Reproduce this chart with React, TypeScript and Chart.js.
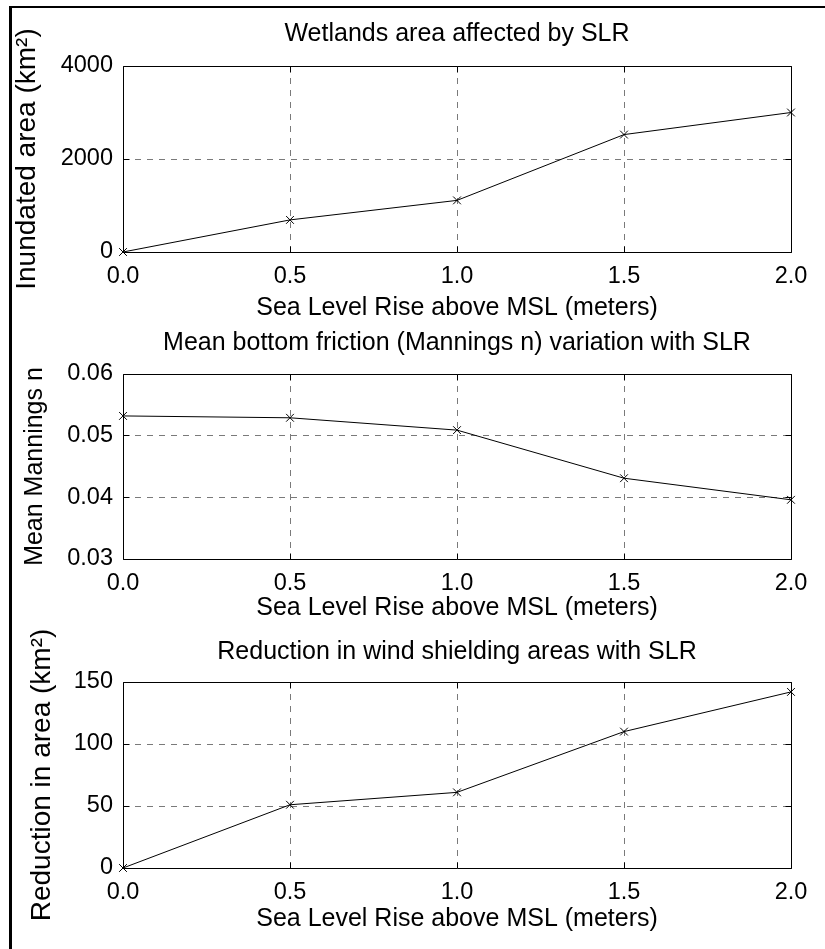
import React, { useEffect, useRef } from "react";
import { Chart, registerables } from "chart.js";

Chart.register(...registerables);

// ---- data ----
const slrLevels = [0, 0.5, 1.0, 1.5, 2.0];
const xTickValues = [0, 0.5, 1.0, 1.5, 2.0];
const inundatedArea = [0, 690, 1110, 2525, 3000];
const manningsN = [0.0532, 0.0529, 0.0509, 0.0431, 0.0396];
const shieldingReduction = [0, 51, 61, 110, 142];

const titles = [
  "Wetlands area affected by SLR",
  "Mean bottom friction (Mannings n) variation with SLR",
  "Reduction in wind shielding areas with SLR",
];
const yLabels = ["Inundated area (km²)", "Mean Mannings n", "Reduction in area (km²)"];
const xLabel = "Sea Level Rise above MSL (meters)";
const yTicks1 = [0, 2000, 4000];
const yTicks2 = [0.03, 0.04, 0.05, 0.06];
const yTicks3 = [0, 50, 100, 150];

// ---- layout / style ----
const W = 825;
const H = 949;
const FONT = "Arial, 'Liberation Sans', Helvetica, sans-serif";
const TICK_SIZE = 23.5;
const LABEL_SIZE = 25;
const LH = 1.2;
const AREA_LEFT = 123;
const AREA_RIGHT = 791;

type Panel = {
  title: string;
  yLabel: string;
  yLabelSize: number;
  values: number[];
  yTicks: number[];
  decimals: number;
  areaTop: number;
  areaBottom: number;
  titleMid: number;
  xTitleMid: number;
  yTitleX: number;
};

const panels: Panel[] = [
  { title: titles[0], yLabel: yLabels[0], yLabelSize: 28, values: inundatedArea, yTicks: yTicks1, decimals: 0,
    areaTop: 66, areaBottom: 252, titleMid: 34, xTitleMid: 308, yTitleX: 27 },
  { title: titles[1], yLabel: yLabels[1], yLabelSize: 25, values: manningsN, yTicks: yTicks2, decimals: 2,
    areaTop: 374, areaBottom: 559, titleMid: 343, xTitleMid: 608, yTitleX: 35 },
  { title: titles[2], yLabel: yLabels[2], yLabelSize: 28, values: shieldingReduction, yTicks: yTicks3, decimals: 0,
    areaTop: 682, areaBottom: 868, titleMid: 652, xTitleMid: 919, yTitleX: 42 },
];

const align = (p: number) => Math.round(p - 0.5) + 0.5;

const boxPlugin = {
  id: "matlabBox",
  afterDraw(chart: any) {
    const { ctx, chartArea, scales } = chart;
    const l = align(chartArea.left);
    const r = align(chartArea.right);
    const t = align(chartArea.top);
    const b = align(chartArea.bottom);
    const TL = 6;
    ctx.save();
    ctx.strokeStyle = "#000";
    ctx.lineWidth = 1;
    ctx.setLineDash([]);
    ctx.beginPath();
    ctx.rect(l, t, r - l, b - t);
    for (const tk of scales.x.ticks) {
      const px = align(scales.x.getPixelForValue(tk.value));
      ctx.moveTo(px, b);
      ctx.lineTo(px, b - TL);
      ctx.moveTo(px, t);
      ctx.lineTo(px, t + TL);
    }
    for (const tk of scales.y.ticks) {
      const py = align(scales.y.getPixelForValue(tk.value));
      ctx.moveTo(l, py);
      ctx.lineTo(l + TL, py);
      ctx.moveTo(r, py);
      ctx.lineTo(r - TL, py);
    }
    ctx.stroke();
    ctx.restore();
  },
};

function PanelChart({ panel }: { panel: Panel }) {
  const ref = useRef<HTMLCanvasElement | null>(null);
  useEffect(() => {
    if (!ref.current) return;
    const lhLabel = LABEL_SIZE * LH;
    const lhY = panel.yLabelSize * LH;
    const xH = panel.xTitleMid - panel.areaBottom + lhLabel / 2;
    const yMin = panel.yTicks[0];
    const yMax = panel.yTicks[panel.yTicks.length - 1];
    const gridColor = (min: number, max: number) => (c: any) =>
      c.tick && (Math.abs(c.tick.value - min) < 1e-9 || Math.abs(c.tick.value - max) < 1e-9)
        ? "rgba(0,0,0,0)"
        : "#7a7a7a";
    const chart = new Chart(ref.current, {
      type: "line",
      data: {
        datasets: [
          {
            data: slrLevels.map((x, i) => ({ x, y: panel.values[i] })),
            borderColor: "#000",
            borderWidth: 1,
            pointStyle: "crossRot",
            pointRadius: 5.5,
            pointBorderColor: "#000",
            pointBackgroundColor: "#000",
            pointBorderWidth: 1,
            fill: false,
            tension: 0,
            clip: false,
          } as any,
        ],
      },
      options: {
        animation: false,
        responsive: false,
        maintainAspectRatio: false,
        devicePixelRatio: 1,
        events: [],
        layout: {
          padding: { top: 0, left: 0, right: W - AREA_RIGHT, bottom: H - panel.areaBottom - xH },
        },
        plugins: {
          legend: { display: false },
          tooltip: { enabled: false },
          title: {
            display: true,
            fullSize: false,
            text: panel.title,
            color: "#000",
            font: { family: FONT, size: LABEL_SIZE, weight: "normal", lineHeight: LH },
            padding: {
              top: panel.titleMid - lhLabel / 2,
              bottom: panel.areaTop - panel.titleMid - lhLabel / 2,
            },
          },
        },
        scales: {
          x: {
            type: "linear",
            min: 0,
            max: 2,
            afterBuildTicks: (s: any) => {
              s.ticks = xTickValues.map((v) => ({ value: v }));
            },
            afterFit: (s: any) => {
              s.height = xH;
            },
            ticks: {
              color: "#000",
              font: { family: FONT, size: TICK_SIZE, lineHeight: LH },
              padding: 10,
              maxRotation: 0,
              autoSkip: false,
              callback: (v: any) => Number(v).toFixed(1),
            },
            grid: { color: gridColor(0, 2), lineWidth: 1, drawTicks: false },
            border: { display: false, dash: [6, 6] },
            title: {
              display: true,
              text: xLabel,
              color: "#000",
              font: { family: FONT, size: LABEL_SIZE, lineHeight: LH },
              padding: { top: 0, bottom: 0 },
            },
          },
          y: {
            type: "linear",
            min: yMin,
            max: yMax,
            afterBuildTicks: (s: any) => {
              s.ticks = panel.yTicks.map((v) => ({ value: v }));
            },
            afterFit: (s: any) => {
              s.width = AREA_LEFT;
            },
            ticks: {
              color: "#000",
              font: { family: FONT, size: TICK_SIZE, lineHeight: LH },
              padding: 10,
              autoSkip: false,
              callback: (v: any) => Number(v).toFixed(panel.decimals),
            },
            grid: { color: gridColor(yMin, yMax), lineWidth: 1, drawTicks: false },
            border: { display: false, dash: [6, 6] },
            title: {
              display: true,
              text: panel.yLabel,
              color: "#000",
              font: { family: FONT, size: panel.yLabelSize, lineHeight: LH },
              padding: { top: panel.yTitleX - lhY / 2, bottom: 0 },
            },
          },
        },
      },
      plugins: [boxPlugin],
    } as any);
    return () => chart.destroy();
  }, [panel]);
  return (
    <canvas
      ref={ref}
      width={W}
      height={H}
      style={{ position: "absolute", left: 0, top: 0, display: "block" }}
    />
  );
}

export default function App() {
  return (
    <div
      style={{
        position: "absolute",
        left: 0,
        top: 0,
        width: W,
        height: H,
        overflow: "hidden",
        background: "#fff",
      }}
    >
      {panels.map((p, i) => (
        <PanelChart key={i} panel={p} />
      ))}
      <div
        style={{
          position: "absolute",
          left: 812,
          top: 0,
          width: 13,
          height: H,
          background: "#fff",
          zIndex: 5,
        }}
      />
      <div
        style={{
          position: "absolute",
          left: 9,
          top: 6,
          width: 900,
          height: 2,
          background: "#000",
          zIndex: 6,
        }}
      />
      <div
        style={{
          position: "absolute",
          left: 9,
          top: 6,
          width: 3,
          height: 1000,
          background: "#000",
          zIndex: 6,
        }}
      />
    </div>
  );
}
